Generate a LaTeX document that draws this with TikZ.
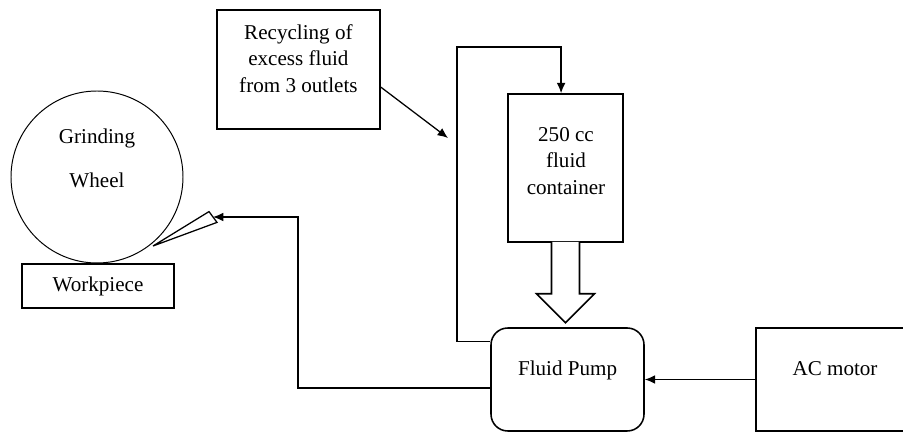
\documentclass[tikz,border=0pt]{standalone}
\usepackage{fontspec}
\setmainfont{Liberation Serif}
\usetikzlibrary{arrows.meta,calc}

\begin{document}
\begin{tikzpicture}[
  every node/.append style={font=\fontsize{15}{19}\selectfont},
  boxsty/.style={draw, line width=1.1pt, inner sep=0pt},
  pumpsty/.style={draw, line width=1.1pt, rounded corners=0.42cm, inner sep=0pt},
  wheelsty/.style={draw, circle, line width=0.7pt, inner sep=0pt},
  txt/.style={align=center, inner sep=0pt},
  flow/.style={line width=0.9pt},
  arrow/.style={flow, -{Latex[length=2.6mm,width=2.2mm]}}]

\useasboundingbox (0,0) rectangle (22.575,10.8);

% wheel, workpiece and nozzle
\node[wheelsty, minimum size=4.3cm] (wheel) at (2.425,6.375) {};
\node[txt] (wheeltop) at (2.425,7.35) {Grinding};
\node[txt] (wheelbot) at (2.425,6.3) {Wheel};
\node[boxsty, minimum width=3.8cm, minimum height=1.1cm] (work) at (2.45,3.65) {Workpiece};

\coordinate (nozzletip) at (3.825,4.65);
\coordinate (nozzleup) at (5.225,5.51);
\coordinate (nozzlelow) at (5.425,5.24);
\coordinate (nozzle) at ($(nozzleup)!0.5!(nozzlelow)$);
\draw[flow] (nozzletip) -- (nozzleup) -- (nozzlelow) -- cycle;

% recycling box
\node[boxsty, minimum width=4.075cm, minimum height=2.975cm] (recycle) at (7.4625,9.0625) {};
\node[txt] (recycletext) at (7.46,9.34) {Recycling of\\excess fluid\\from 3 outlets};

% container with its outlet
\node[boxsty, minimum width=2.875cm, minimum height=3.7cm] (tank) at (14.1375,6.6) {};
\node[txt] (tanktext) at (14.15,6.775) {250 cc\\fluid\\container};
\draw[boxsty, fill=white] (tank.south) ++(-0.35,0.02) -- ++(0,-1.295) -- ++(-0.375,0)
  -- ++(0.725,-0.725) -- ++(0.725,0.725) -- ++(-0.375,0) -- ++(0,1.295);

% pump and motor
\node[pumpsty, minimum width=3.825cm, minimum height=2.575cm] (pump) at (14.1875,1.3125) {};
\node[txt] (pumptext) at (14.19,1.55) {Fluid Pump};
\node[boxsty, minimum width=3.95cm, minimum height=2.575cm] (motor) at (20.875,1.3125) {};
\node[txt] (motortext) at (20.875,1.575) {AC motor};

% connectors
\coordinate (feed) at (7.45,5.375);
\coordinate (loopturn) at (11.425,9.625);
\coordinate (inlet) at (11.2,7.35);

\draw[arrow] (motor) -- (pump);
\draw[arrow] ([yshift=-0.21cm]pump.west) -| (feed) -- (nozzle);
\draw[arrow] ([yshift=-0.35cm]pump.north west) -| (loopturn) -| ([xshift=-0.11cm]tank.north);
\draw[arrow] ([yshift=-0.44cm]recycle.east) -- (inlet);

\end{tikzpicture}
\end{document}
